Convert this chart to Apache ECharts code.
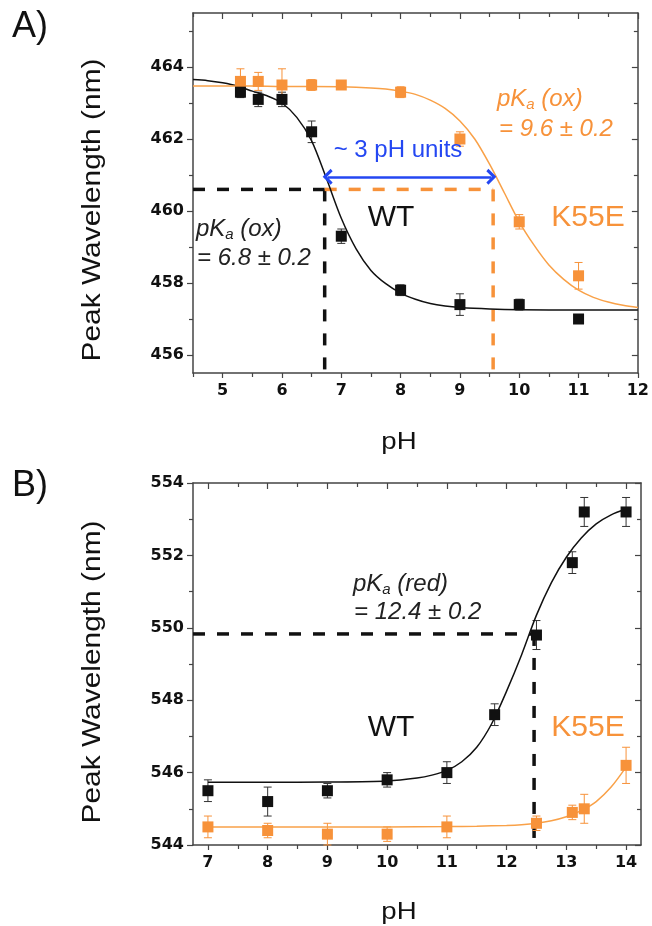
<!DOCTYPE html>
<html>
<head>
<meta charset="utf-8">
<script src="https://cdn.jsdelivr.net/npm/echarts@6/dist/echarts.min.js"></script>
<style>
html,body{margin:0;padding:0;background:#fff;}
#chart{width:652px;height:926px;}
</style>
</head>
<body>
<div id="chart"></div>
<script>
// ---------- Panel A data (oxidized) ----------
const wtA_pH   = [5.3, 5.6, 6.0, 6.5, 7.0, 8.0, 9.0, 10.0, 11.0];
const wtA_nm   = [463.3, 463.1, 463.1, 462.2, 459.3, 457.8, 457.4, 457.4, 457.0];
const wtA_err  = [0.15, 0.2, 0.2, 0.3, 0.2, 0.15, 0.3, 0.15, 0.05];
const k55eA_pH  = [5.3, 5.6, 6.0, 6.5, 7.0, 8.0, 9.0, 10.0, 11.0];
const k55eA_nm  = [463.6, 463.6, 463.5, 463.5, 463.5, 463.3, 462.0, 459.7, 458.2];
const k55eA_err = [0.35, 0.25, 0.45, 0.15, 0.1, 0.15, 0.2, 0.2, 0.37];
// fitted curves
const fitWtA_pH = [4.5, 4.75, 5.0, 5.25, 5.5, 5.75, 6.0, 6.25, 6.5, 6.75, 7.0, 7.25, 7.5, 7.75, 8.0, 8.25, 8.5, 8.75, 9.0, 9.5, 10.0, 11.0, 12.0];
const fitWtA_nm = [463.65, 463.62, 463.56, 463.47, 463.33, 463.2, 463.0, 462.6, 461.95, 460.9, 459.8, 458.95, 458.35, 457.98, 457.72, 457.55, 457.43, 457.36, 457.32, 457.28, 457.26, 457.25, 457.25];
const fitK55eA_pH = [4.5, 5.0, 5.5, 6.0, 6.5, 7.0, 7.5, 7.75, 8.0, 8.25, 8.5, 8.75, 9.0, 9.25, 9.5, 9.75, 10.0, 10.25, 10.5, 10.75, 11.0, 11.25, 11.5, 11.75, 12.0];
const fitK55eA_nm = [463.47, 463.47, 463.47, 463.46, 463.46, 463.45, 463.42, 463.39, 463.33, 463.24, 463.08, 462.85, 462.5, 462.0, 461.3, 460.5, 459.7, 459.05, 458.5, 458.1, 457.8, 457.6, 457.47, 457.38, 457.32];
// guide lines panel A
const guideA_level = 460.6;
const pKaA_wt = 6.72;
const pKaA_k55e = 9.56;
const arrowA_level = 460.95;

// ---------- Panel B data (reduced) ----------
const wtB_pH   = [7, 8, 9, 10, 11, 11.8, 12.5, 13.1, 13.3, 14];
const wtB_nm   = [545.5, 545.2, 545.5, 545.8, 546.0, 547.6, 549.8, 551.8, 553.2, 553.2];
const wtB_err  = [0.3, 0.4, 0.2, 0.2, 0.3, 0.3, 0.4, 0.3, 0.4, 0.4];
const k55eB_pH  = [7, 8, 9, 10, 11, 12.5, 13.1, 13.3, 14];
const k55eB_nm  = [544.5, 544.4, 544.3, 544.3, 544.5, 544.6, 544.9, 545.0, 546.2];
const k55eB_err = [0.3, 0.2, 0.3, 0.2, 0.3, 0.2, 0.2, 0.4, 0.5];
const fitWtB_pH = [7, 8, 9, 10, 10.5, 10.75, 11, 11.25, 11.5, 11.75, 12, 12.25, 12.5, 12.75, 13, 13.25, 13.5, 13.75, 14];
const fitWtB_nm = [545.73, 545.73, 545.74, 545.77, 545.85, 545.93, 546.06, 546.3, 546.7, 547.35, 548.25, 549.25, 550.35, 551.25, 551.95, 552.48, 552.87, 553.12, 553.28];
const fitK55eB_pH = [7, 8, 9, 10, 11, 11.5, 12, 12.25, 12.5, 12.75, 13, 13.25, 13.5, 13.75, 14];
const fitK55eB_nm = [544.5, 544.5, 544.5, 544.5, 544.51, 544.52, 544.54, 544.56, 544.6, 544.67, 544.78, 544.95, 545.2, 545.6, 546.15];
const guideB_level = 549.83;
const pKaB_wt = 12.46;

// ---------- axes ticks ----------
const xRangeA = [4.5, 12];
const yRangeA = [455.5, 465.5];
const xLabelsA = [5, 6, 7, 8, 9, 10, 11, 12];
const xMinorA  = [4.5, 5.5, 6.5, 7.5, 8.5, 9.5, 10.5, 11.5];
const yLabelsA = [456, 458, 460, 462, 464];
const yMinorA  = [457, 459, 461, 463, 465];
const xRangeB = [6.75, 14.25];
const yRangeB = [544, 554];
const xLabelsB = [7, 8, 9, 10, 11, 12, 13, 14];
const xMinorB  = [7.5, 8.5, 9.5, 10.5, 11.5, 12.5, 13.5];
const yLabelsB = [544, 546, 548, 550, 552, 554];
const yMinorB  = [545, 547, 549, 551, 553];

const BLACK = '#111111';
const ORANGE = '#f7923a';
const ORANGE_LINE = '#f9a148';
const BLUE = '#2447f2';
const AXIS = '#444444';
const FONT = "'Liberation Sans', Arial, sans-serif";

function zip(a, b, c) { return a.map((v, i) => c ? [v, b[i], c[i]] : [v, b[i]]); }

function axisSet(dim, gridIndex, range, labels, minor) {
  const isX = dim === 'x';
  const pos1 = isX ? 'bottom' : 'left';
  const pos2 = isX ? 'top' : 'right';
  const base = { type: 'value', gridIndex, min: range[0], max: range[1], splitLine: { show: false } };
  return [
    Object.assign({}, base, {
      position: pos1,
      axisLine: { show: true, lineStyle: { color: AXIS, width: 1.5 } },
      axisTick: { show: true, inside: false, length: isX ? 5 : 6, customValues: labels, lineStyle: { color: AXIS, width: 1.2 } },
      axisLabel: { show: true, customValues: labels, margin: isX ? 10 : 9, color: '#111',
        fontFamily: "'DejaVu Sans', sans-serif", fontWeight: 'bold', fontSize: 16 }
    }),
    Object.assign({}, base, {
      position: pos1,
      axisLine: { show: false },
      axisTick: { show: true, inside: false, length: 4, customValues: minor, lineStyle: { color: AXIS, width: 1.2 } },
      axisLabel: { show: false }
    }),
    Object.assign({}, base, {
      position: pos2,
      axisLine: { show: true, lineStyle: { color: AXIS, width: 1.5 } },
      axisTick: { show: true, inside: true, length: 6, customValues: labels, lineStyle: { color: AXIS, width: 1.2 } },
      axisLabel: { show: false }
    }),
    Object.assign({}, base, {
      position: pos2,
      axisLine: { show: false },
      axisTick: { show: true, inside: true, length: 4, customValues: minor, lineStyle: { color: AXIS, width: 1.2 } },
      axisLabel: { show: false }
    })
  ];
}

function errorSeries(data, color, xi, yi) {
  return {
    type: 'custom', xAxisIndex: xi, yAxisIndex: yi, data: data, z: 3,
    encode: { x: 0, y: [1] },
    renderItem: function (params, api) {
      const x = api.value(0), y = api.value(1), e = api.value(2);
      const lo = api.coord([x, y - e]);
      const hi = api.coord([x, y + e]);
      const w = 4;
      const st = { stroke: color, lineWidth: 1 };
      return { type: 'group', children: [
        { type: 'line', shape: { x1: lo[0], y1: lo[1], x2: hi[0], y2: hi[1] }, style: st },
        { type: 'line', shape: { x1: lo[0] - w, y1: lo[1], x2: lo[0] + w, y2: lo[1] }, style: st },
        { type: 'line', shape: { x1: hi[0] - w, y1: hi[1], x2: hi[0] + w, y2: hi[1] }, style: st }
      ]};
    }
  };
}
function scatterSeries(data, color, xi, yi) {
  return { type: 'scatter', xAxisIndex: xi, yAxisIndex: yi, data: data, symbol: 'rect', symbolSize: 11,
    itemStyle: { color: color, opacity: 1 }, z: 5, silent: true };
}
function curveSeries(data, color, xi, yi, width) {
  return { type: 'line', xAxisIndex: xi, yAxisIndex: yi, data: data, smooth: 0.3,
    showSymbol: false, symbol: 'none', lineStyle: { color: color, width: width }, z: 4, silent: true };
}
function dashSeries(data, color, xi, yi) {
  return { type: 'line', xAxisIndex: xi, yAxisIndex: yi, data: data, showSymbol: false, symbol: 'none',
    lineStyle: { color: color, width: 3.5, type: [12, 12] }, z: 2, silent: true };
}

function txt(x, y, text, size, color, opt) {
  opt = opt || {};
  return {
    type: 'text', x: x, y: y, rotation: opt.rotation || 0, scaleX: opt.scaleX || 1, z: 10,
    style: Object.assign({
      text: text, fill: color, fontFamily: FONT, fontSize: size, fontStyle: opt.italic ? 'italic' : 'normal',
      align: opt.align || 'center', verticalAlign: 'middle'
    }, opt.rich ? { rich: opt.rich } : {})
  };
}
function pkaText(x, y, label, color) {
  return txt(x, y, '{m|pK}{s|a}{m| ' + label + '}', 24, color, {
    italic: true, align: 'left',
    rich: {
      m: { fontFamily: FONT, fontStyle: 'italic', fontSize: 24, lineHeight: 26, color: color, verticalAlign: 'middle' },
      s: { fontFamily: FONT, fontStyle: 'italic', fontSize: 15, lineHeight: 10, color: color, verticalAlign: 'bottom' }
    }
  });
}

const chart = echarts.init(document.getElementById('chart'), null, { renderer: 'canvas' });

const xAxes = axisSet('x', 0, xRangeA, xLabelsA, xMinorA).concat(axisSet('x', 1, xRangeB, xLabelsB, xMinorB));
const yAxes = axisSet('y', 0, yRangeA, yLabelsA, yMinorA).concat(axisSet('y', 1, yRangeB, yLabelsB, yMinorB));

const option = {
  backgroundColor: '#ffffff',
  animation: false,
  grid: [
    { left: 193, top: 13, width: 448, height: 360 },
    { left: 193, top: 483, width: 448, height: 362 }
  ],
  xAxis: xAxes,
  yAxis: yAxes,
  series: [
    // Panel A
    dashSeries([[xRangeA[0], guideA_level], [pKaA_wt, guideA_level]], BLACK, 0, 0),
    dashSeries([[pKaA_wt, guideA_level], [pKaA_wt, yRangeA[0]]], BLACK, 0, 0),
    dashSeries([[pKaA_wt, guideA_level], [pKaA_k55e, guideA_level]], ORANGE, 0, 0),
    dashSeries([[pKaA_k55e, guideA_level], [pKaA_k55e, yRangeA[0]]], ORANGE, 0, 0),
    curveSeries(zip(fitWtA_pH, fitWtA_nm), BLACK, 0, 0, 1.5),
    curveSeries(zip(fitK55eA_pH, fitK55eA_nm), ORANGE_LINE, 0, 0, 1.5),
    errorSeries(zip(wtA_pH, wtA_nm, wtA_err), '#333333', 0, 0),
    errorSeries(zip(k55eA_pH, k55eA_nm, k55eA_err), ORANGE, 0, 0),
    scatterSeries(zip(k55eA_pH, k55eA_nm), ORANGE, 0, 0),
    scatterSeries(zip(wtA_pH, wtA_nm), BLACK, 0, 0),
    {
      type: 'line', xAxisIndex: 0, yAxisIndex: 0, data: [], silent: true,
      markLine: {
        silent: true, animation: false,
        symbol: ['path://M0,10 L10,0 L20,10 L17,12.5 L10,5.5 L3,12.5 Z', 'path://M0,10 L10,0 L20,10 L17,12.5 L10,5.5 L3,12.5 Z'],
        symbolSize: [16, 10],
        label: { show: false },
        lineStyle: { color: BLUE, width: 2.5, type: 'solid' },
        itemStyle: { color: BLUE },
        data: [[{ coord: [pKaA_wt + 0.05, arrowA_level] }, { coord: [pKaA_k55e - 0.03, arrowA_level] }]]
      }
    },
    // Panel B
    dashSeries([[xRangeB[0], guideB_level], [pKaB_wt, guideB_level]], BLACK, 4, 4),
    dashSeries([[pKaB_wt, guideB_level], [pKaB_wt, yRangeB[0]]], BLACK, 4, 4),
    curveSeries(zip(fitWtB_pH, fitWtB_nm), BLACK, 4, 4, 1.5),
    curveSeries(zip(fitK55eB_pH, fitK55eB_nm), ORANGE_LINE, 4, 4, 1.5),
    errorSeries(zip(wtB_pH, wtB_nm, wtB_err), '#333333', 4, 4),
    errorSeries(zip(k55eB_pH, k55eB_nm, k55eB_err), ORANGE, 4, 4),
    scatterSeries(zip(k55eB_pH, k55eB_nm), ORANGE, 4, 4),
    scatterSeries(zip(wtB_pH, wtB_nm), BLACK, 4, 4)
  ],
  graphic: [
    txt(12, 27, 'A)', 36, BLACK, { align: 'left' }),
    txt(12, 486, 'B)', 36, BLACK, { align: 'left' }),
    txt(93, 210, 'Peak Wavelength (nm)', 26, BLACK, { rotation: Math.PI / 2, scaleX: 1.15 }),
    txt(93, 672, 'Peak Wavelength (nm)', 26, BLACK, { rotation: Math.PI / 2, scaleX: 1.15 }),
    txt(399, 442, 'pH', 24, BLACK, { scaleX: 1.15 }),
    txt(399, 912, 'pH', 24, BLACK, { scaleX: 1.15 }),
    // panel A annotations
    txt(398, 150, '~ 3 pH units', 24, BLUE),
    pkaText(497, 99, '(ox)', ORANGE),
    txt(499, 129, '= 9.6 ± 0.2', 24, ORANGE, { italic: true, align: 'left' }),
    pkaText(196, 229, '(ox)', '#222222'),
    txt(197, 258, '= 6.8 ± 0.2', 24, '#222222', { italic: true, align: 'left' }),
    txt(391, 218, 'WT', 30, BLACK),
    txt(588, 218, 'K55E', 30, ORANGE),
    // panel B annotations
    pkaText(353, 584, '(red)', '#222222'),
    txt(354, 612, '= 12.4 ± 0.2', 24, '#222222', { italic: true, align: 'left' }),
    txt(391, 728, 'WT', 30, BLACK),
    txt(588, 728, 'K55E', 30, ORANGE)
  ]
};
chart.setOption(option);
</script>
</body>
</html>
